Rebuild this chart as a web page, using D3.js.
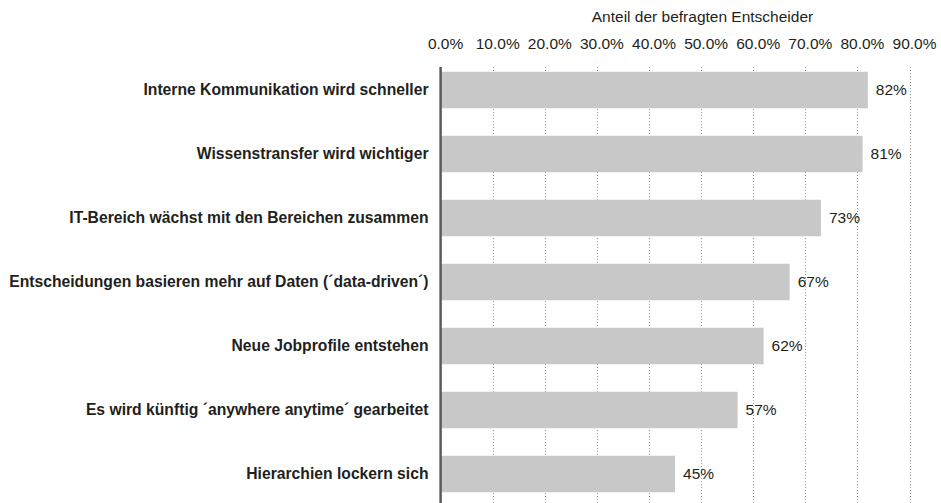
<!DOCTYPE html>
<html><head><meta charset="utf-8">
<script src="https://cdn.jsdelivr.net/npm/d3@7"></script>
<style>body{margin:0;background:#fff}svg{display:block}text{font-family:"Liberation Sans",Arial,sans-serif;fill:#231f20}</style>
</head><body><svg id="c" width="941" height="503"></svg>
<script>
const categories = [
  "Interne Kommunikation wird schneller",
  "Wissenstransfer wird wichtiger",
  "IT-Bereich wächst mit den Bereichen zusammen",
  "Entscheidungen basieren mehr auf Daten (´data-driven´)",
  "Neue Jobprofile entstehen",
  "Es wird künftig ´anywhere anytime´ gearbeitet",
  "Hierarchien lockern sich"
];
const values = [82, 81, 73, 67, 62, 57, 45];
const tickValues = [0, 10, 20, 30, 40, 50, 60, 70, 80, 90];
const axisTitle = "Anteil der befragten Entscheider";

const svg = d3.select("#c");
const x = d3.scaleLinear().domain([0, 90]).range([440.6, 909.5]);
const y = d3.scaleBand().domain(categories).range([58, 506]).paddingInner(0.43).paddingOuter(0.215);

// gridlines
svg.append("g").selectAll("line").data(tickValues.slice(1)).join("line")
  .attr("x1", d => Math.round(x(d)) + 0.5).attr("x2", d => Math.round(x(d)) + 0.5)
  .attr("y1", 67).attr("y2", 503)
  .attr("stroke", "#9a9a9a").attr("stroke-width", 1).attr("stroke-dasharray", "1,2");

// bars
svg.append("g").selectAll("rect").data(values).join("rect")
  .attr("x", x(0)).attr("y", (d, i) => y(categories[i]))
  .attr("width", d => x(d) - x(0)).attr("height", y.bandwidth())
  .attr("fill", "#c8c8c9");

// value labels
svg.append("g").selectAll("text").data(values).join("text")
  .attr("x", d => x(d) + 8).attr("y", (d, i) => y(categories[i]) + y.bandwidth() / 2)
  .attr("dy", "0.35em").attr("font-size", 15.5).text(d => d + "%");

// axis line
svg.append("line").attr("x1", x(0)).attr("x2", x(0)).attr("y1", 67).attr("y2", 503)
  .attr("stroke", "#5a5a5a").attr("stroke-width", 2.5);

// top axis
const ax = d3.axisTop(x).tickValues(tickValues).tickFormat(d => d.toFixed(1) + "%").tickSize(0).tickPadding(0);
const g = svg.append("g").attr("transform", "translate(4.5,49)").call(ax);
g.select(".domain").remove();
g.selectAll("text").attr("font-size", 15.5).attr("fill", "#231f20").style("font-family", "Liberation Sans, Arial, sans-serif");

svg.append("text").attr("x", 702.5).attr("y", 21.5).attr("text-anchor", "middle").attr("font-size", 15.5).text(axisTitle);

// category labels
svg.append("g").selectAll("text").data(categories).join("text")
  .attr("x", 428.5).attr("y", d => y(d) + y.bandwidth() / 2).attr("dy", "0.35em")
  .attr("text-anchor", "end").attr("font-weight", "bold").attr("font-size", 15.7).text(d => d);
</script></body></html>
